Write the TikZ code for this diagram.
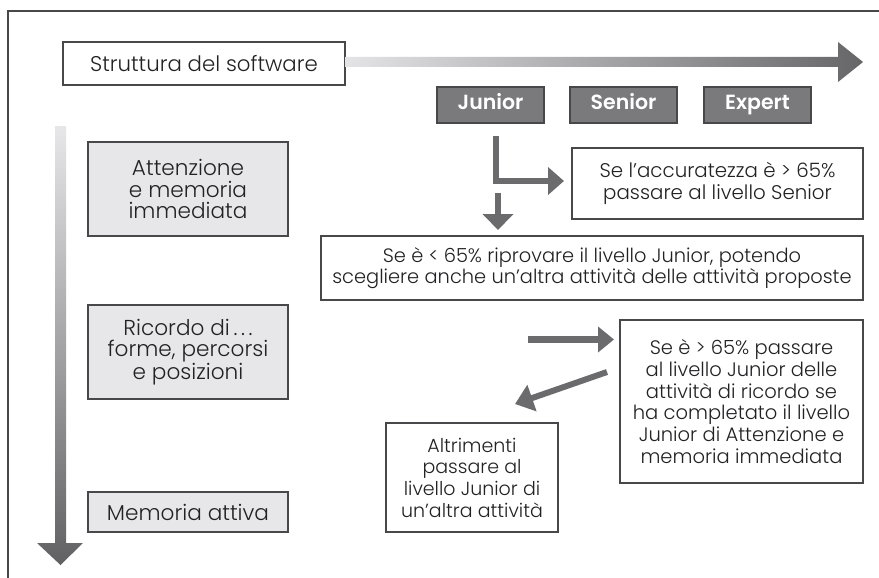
\documentclass[tikz,border=0pt]{standalone}
\usepackage{fontspec}
\setmainfont{Poppins Light}[BoldFont={Poppins SemiBold}]
\usetikzlibrary{arrows.meta}
\definecolor{txt}{HTML}{222224}
\definecolor{edge}{HTML}{48484A}
\definecolor{lvl}{HTML}{7A7A7D}
\definecolor{pale}{HTML}{E7E7E9}
\definecolor{arr}{HTML}{6B6B6E}
\definecolor{gradlight}{HTML}{E4E4E6}
\definecolor{graddark}{HTML}{666669}
\begin{document}
\begin{tikzpicture}[x=1pt,y=-1pt,
  box/.style={draw=edge, line width=1.1pt, fill=white, text=txt, align=center, inner sep=0pt,
    font=\fontsize{19.5}{21.7}\selectfont},
  palebox/.style={box, fill=pale, font=\fontsize{21.6}{21.2}\selectfont},
  lvlbox/.style={draw=edge, line width=1.1pt, fill=lvl, text=white, inner sep=0pt,
    minimum width=107pt, minimum height=36pt, text height=14pt, text depth=4pt,
    font=\fontsize{20.5}{22}\selectfont\bfseries},
  fat/.style={draw=arr, line width=6.5pt, line join=miter, -{Triangle[length=16pt,width=27pt]}}
]
\useasboundingbox (0,0) rectangle (879,578);
\fill[white] (0,0) rectangle (879,578);
% frame
\draw[edge, line width=1.2pt] (8,578) -- (8,11) -- (879,11);

% title box and horizontal gradient arrow
\node[box, minimum width=282pt, minimum height=43pt, font=\fontsize{21.3}{22}\selectfont] (sw) at (204,63.5) {Struttura del software};
\shade[left color=gradlight, right color=graddark]
  (sw.east |- 0,57) -- (838,57) -- (838,42) -- (863,62) -- (838,82) -- (838,67) -- (sw.east |- 0,67) -- cycle;

% levels
\node[lvlbox] (jun) at (490.5,105) {Junior};
\node[lvlbox] (sen) at (623.5,105) {Senior};
\node[lvlbox] (exp) at (757.5,105) {Expert};

% vertical gradient arrow
\shade[top color=gradlight!90!white, bottom color=graddark!95!black]
  (55,126) -- (66,126) -- (66,543) -- (83,543) -- (60.5,565) -- (37,543) -- (55,543) -- cycle;

% activity boxes
\node[palebox, minimum width=200pt, minimum height=94pt] (att) at (188,189) {Attenzione\\e memoria\\immediata};
\node[palebox, minimum width=200pt, minimum height=94pt] (ric) at (188,352) {Ricordo di\,.\,.\,.\\forme, percorsi\\e posizioni};
\node[palebox, minimum width=200pt, minimum height=40pt] (mem) at (188,512) {Memoria attiva};

% rule boxes
\node[box, minimum width=291pt, minimum height=71pt, font=\fontsize{19.8}{21.7}\selectfont] (acc) at (717.5,183.5) {Se l’accuratezza è > 65\%\\passare al livello Senior};
\node[box, minimum width=542pt, minimum height=64pt, font=\fontsize{19.4}{21.5}\selectfont] (lt) at (592,268) {Se è < 65\% riprovare il livello Junior, potendo\\scegliere anche un’altra attività delle attività proposte};
\node[box, minimum width=243pt, minimum height=163pt] (gt) at (741.5,401.5) {Se è > 65\% passare\\al livello Junior delle\\attività di ricordo se\\ha completato il livello\\Junior di Attenzione e\\memoria immediata};
\node[box, minimum width=172pt, minimum height=109pt, font=\fontsize{19}{21.7}\selectfont] (alt) at (472,477.5) {Altrimenti\\passare al\\livello Junior di\\un’altra attività};

% connectors
\coordinate (l1) at (496,136);
\coordinate (l2) at (496,181);
\coordinate (l3) at (564,181);
\draw[fat] (l1) -- (l2) -- (l3);
\coordinate (d1) at (498,193);
\coordinate (d2) at (498,230);
\draw[fat, -{Triangle[length=16pt,width=30pt]}] (d1) -- (d2);
\coordinate (r1) at (528,339.5);
\coordinate (r2) at (614,339.5);
\draw[fat, -{Triangle[length=16pt,width=25pt]}] (r1) -- (r2);
\coordinate (g1) at (607,372);
\coordinate (g2) at (515,404);
\draw[fat, line width=6pt, -{Triangle[length=18pt,width=27pt]}] (g1) -- (g2);
\end{tikzpicture}
\end{document}
